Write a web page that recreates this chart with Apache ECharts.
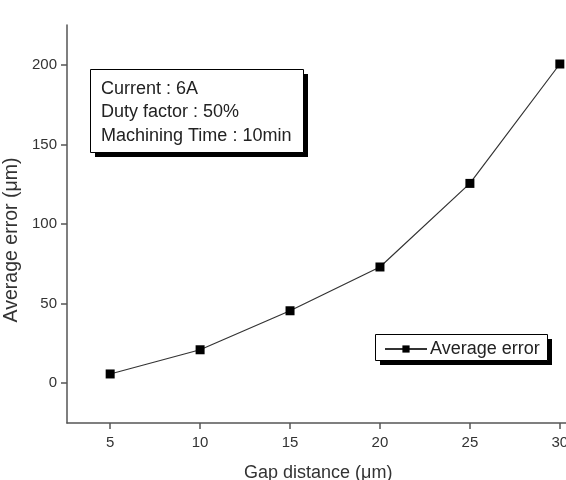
<!DOCTYPE html>
<html><head><meta charset="utf-8">
<script src="https://cdn.jsdelivr.net/npm/echarts@6/dist/echarts.min.js"></script>
<style>html,body{margin:0;padding:0;background:#fff}#c{width:566px;height:480px}</style>
</head><body><div id="c"></div>
<script>
const gapDistance = [5, 10, 15, 20, 25, 30];
const averageError = [5.8, 21, 45.5, 73, 125.5, 200.5];
const yTicks = [0, 50, 100, 150, 200];
const xTicks = [5, 10, 15, 20, 25, 30];
const infoLines = ['Current : 6A', 'Duty factor : 50%', 'Machining Time : 10min'];

const font = 'Liberation Sans, Arial, sans-serif';
const chart = echarts.init(document.getElementById('c'));
chart.setOption({
  animation: false,
  grid: { left: 67, top: 25, width: 536, height: 398, containLabel: false, outerBoundsMode: 'none' },
  xAxis: {
    type: 'value', min: 2.6, max: 32.4,
    axisLine: { onZero: false, lineStyle: { color: '#555', width: 1.5 } },
    axisTick: { customValues: xTicks, length: 6, lineStyle: { color: '#555', width: 1.5 } },
    axisLabel: { customValues: xTicks, color: '#333', fontSize: 15, fontFamily: font, margin: 12 },
    splitLine: { show: false }
  },
  yAxis: {
    type: 'value', min: -25, max: 225,
    axisLine: { show: true, onZero: false, lineStyle: { color: '#555', width: 1.5 } },
    axisTick: { show: true, customValues: yTicks, length: 6, lineStyle: { color: '#555', width: 1.5 } },
    axisLabel: { customValues: yTicks, color: '#333', fontSize: 15, fontFamily: font, margin: 10 },
    splitLine: { show: false }
  },
  legend: {
    left: 380, top: 336, itemWidth: 42, itemHeight: 9, itemGap: 4, padding: [4, 4, 4, 4],
    backgroundColor: 'transparent', borderWidth: 0,
    textStyle: { color: '#222', fontSize: 18, fontFamily: font, padding: [0, 0, 0, -2] },
    data: ['Average error']
  },
  graphic: [
    { type: 'rect', left: 380, top: 339, z: 0, shape: { width: 172, height: 26 }, style: { fill: '#000' } },
    { type: 'rect', left: 375, top: 334, z: 1, shape: { width: 172, height: 26 }, style: { fill: '#fff', stroke: '#000', lineWidth: 1 } },
    { type: 'rect', left: 95, top: 74, z: 10, shape: { width: 213, height: 83 }, style: { fill: '#000' } },
    { type: 'rect', left: 90, top: 69, z: 11, shape: { width: 213, height: 83 }, style: { fill: '#fff', stroke: '#000', lineWidth: 1 } },
    { type: 'text', left: 101, top: 77, z: 12, style: { text: infoLines.join('\n'), fill: '#222', font: '18px ' + font, lineHeight: 23.5 } },
    { type: 'text', left: 244, top: 464, z: 12, style: { text: 'Gap distance (\u03bcm)', fill: '#333', font: '18px ' + font } },
    { type: 'text', x: 12, y: 240, rotation: Math.PI / 2, z: 12, style: { text: 'Average error (\u03bcm)', fill: '#333', font: '19.5px ' + font, align: 'center', verticalAlign: 'middle' } }
  ],
  series: [{
    name: 'Average error', type: 'line',
    data: gapDistance.map((x, i) => [x, averageError[i]]),
    symbol: 'rect', symbolSize: 9,
    lineStyle: { color: '#333', width: 1.2 },
    itemStyle: { color: '#000' }
  }]
});
</script></body></html>
